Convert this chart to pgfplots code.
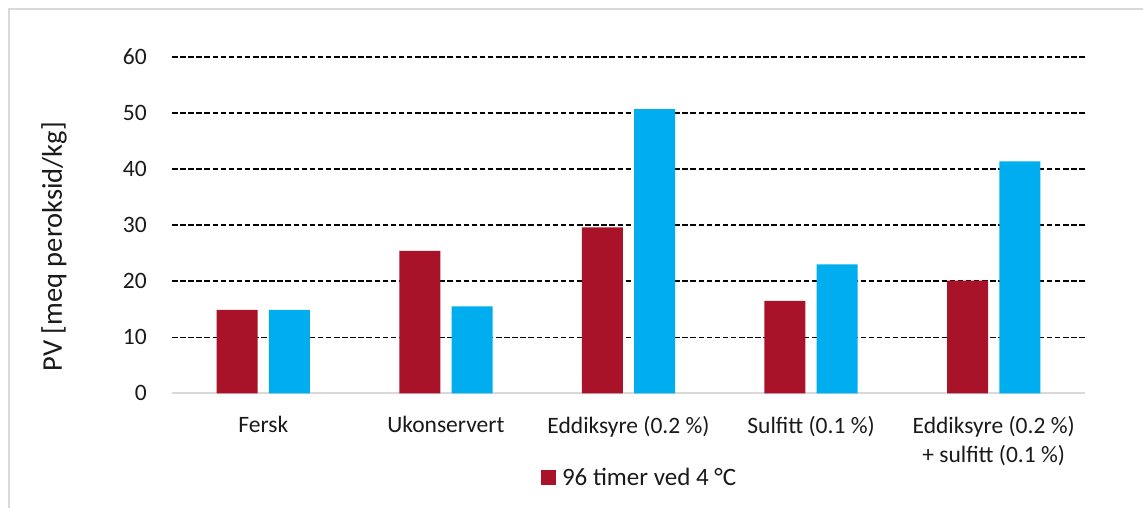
\documentclass[border=0pt]{standalone}
\usepackage{pgfplots}
\pgfplotsset{compat=1.18}
\usepackage{fontspec}
\setmainfont{Carlito}
\definecolor{barred}{HTML}{A8132A}
\definecolor{barblue}{HTML}{00AEEF}
\definecolor{framegray}{HTML}{D9D9D9}
\definecolor{txt}{HTML}{1A1A1A}
\begin{document}
\begin{tikzpicture}[x=1pt,y=1pt]
\useasboundingbox (0,0) rectangle (1143,508);
\fill[white] (0,0) rectangle (1143,508);
\draw[framegray, line width=1.5pt] (9,-10) -- (9,499) -- (1160,499);
\begin{axis}[
  at={(172pt,114.7pt)}, anchor=south west,
  scale only axis, width=913pt, height=336.3pt,
  xmin=-0.5, xmax=4.5, ymin=0, ymax=60,
  ybar, bar width=0.2245,
  ytick={10,20,...,60},
  extra y ticks={0}, extra y tick style={grid=none},
  ymajorgrids,
  major grid style={black, line width=1.45pt, dash pattern=on 5.5pt off 2.6pt},
  xtick={0,...,4},
  xticklabels={Fersk, Ukonservert, Eddiksyre (0.2 \%), Sulfitt (0.1 \%), {Eddiksyre (0.2 \%)\\+ sulfitt (0.1 \%)}},
  axis x line*=bottom, axis y line*=left,
  x axis line style={framegray, line width=1.6pt, -},
  y axis line style={draw=none},
  major tick length=0pt, tick style={draw=none},
  /pgf/number format/assume math mode=true,
  xticklabel style={font=\fontsize{23.5}{29}\selectfont, align=center, anchor=north, inner sep=0pt, yshift=-22.4pt, text=txt},
  yticklabel style={font=\fontsize{23.5}{28}\selectfont, anchor=east, inner sep=0pt, xshift=-25pt, text=txt},
  ylabel={PV [meq peroksid/kg]},
  ylabel style={at={(axis description cs:-0.1292,0.436)}, anchor=center, font=\fontsize{28.5}{34}\selectfont, text=txt},
  legend style={at={(axis description cs:0.4042,-0.2504)}, anchor=west, draw=none, fill=none, inner sep=0pt, outer sep=0pt, font=\fontsize{25}{30}\selectfont, nodes={inner sep=0pt}, text=txt},
  legend image code/.code={\fill[#1, draw=none] (0pt,-7.5pt) rectangle (15pt,7.5pt); \path (21pt,0pt);},
]
\addplot[fill=barred, draw=none, bar shift=-0.143] coordinates {(0,14.9) (1,25.4) (2,29.6) (3,16.5) (4,20.1)};
\addlegendentry{96 timer ved 4 °C}
\addplot[fill=barblue, draw=none, bar shift=0.143, forget plot] coordinates {(0,14.9) (1,15.5) (2,50.7) (3,23.0) (4,41.4)};
\end{axis}
\end{tikzpicture}
\end{document}
